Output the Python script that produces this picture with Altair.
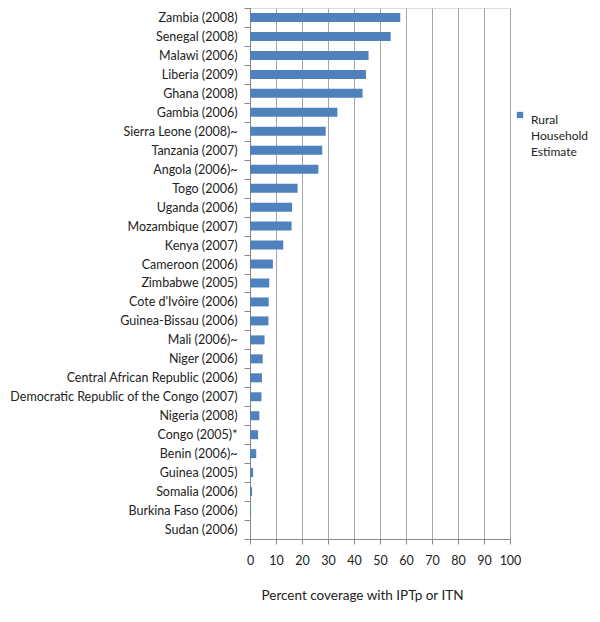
import altair as alt
import pandas as pd

countries = [
    "Zambia (2008)", "Senegal (2008)", "Malawi (2006)", "Liberia (2009)",
    "Ghana (2008)", "Gambia (2006)", "Sierra Leone (2008)~", "Tanzania (2007)",
    "Angola (2006)~", "Togo (2006)", "Uganda (2006)", "Mozambique (2007)",
    "Kenya (2007)", "Cameroon (2006)", "Zimbabwe (2005)", "Cote d'Ivôire (2006)",
    "Guinea-Bissau (2006)", "Mali (2006)~", "Niger (2006)",
    "Central African Republic (2006)", "Democratic Republic of the Congo (2007)",
    "Nigeria (2008)", "Congo (2005)*", "Benin (2006)~", "Guinea (2005)",
    "Somalia (2006)", "Burkina Faso (2006)", "Sudan (2006)",
]
values = [
    57.8, 54.1, 45.6, 44.6, 43.3, 33.6, 29.1, 27.8, 26.3, 18.3, 16.2, 16.0,
    12.8, 8.8, 7.4, 7.2, 7.1, 5.6, 4.9, 4.6, 4.4, 3.6, 3.1, 2.4, 1.2, 0.8, 0.4, 0.0,
]
series = ["Rural Household Estimate"] * len(countries)
x_ticks = list(range(0, 101, 10))

df = pd.DataFrame({"country": countries, "value": values, "series": series})

FONT = "Lato"

bars = alt.Chart(df).mark_bar(size=9).encode(
    y=alt.Y(
        "country:N",
        sort=countries,
        scale=alt.Scale(paddingInner=0, paddingOuter=0),
        axis=alt.Axis(
            title=None,
            tickBand="extent",
            tickSize=6,
            labelPadding=7,
            labelFontSize=12.5,
            labelFont=FONT,
            labelColor="#222222",
            domainColor="#888888",
            tickColor="#888888",
            labelLimit=400,
            grid=False,
        ),
    ),
    x=alt.X(
        "value:Q",
        scale=alt.Scale(domain=[0, 100], nice=False),
        axis=alt.Axis(
            values=x_ticks,
            labelOverlap=False,
            labelFlush=False,
            title="Percent coverage with IPTp or ITN",
            titleFont=FONT,
            titleFontSize=13.5,
            titleFontWeight="normal",
            titleColor="#222222",
            titlePadding=22,
            titleX=112,
            labelFont=FONT,
            labelFontSize=12.5,
            labelColor="#222222",
            labelPadding=10,
            tickSize=5,
            grid=True,
            gridColor="#a6a6a6",
            domainColor="#888888",
            tickColor="#888888",
        ),
    ),
    color=alt.Color(
        "series:N",
        scale=alt.Scale(range=["#4F81BD"]),
        legend=alt.Legend(
            title=None,
            orient="none",
            legendX=264,
            legendY=101,
            padding=0,
            symbolType="square",
            symbolSize=40,
            symbolStrokeWidth=0,
            labelFont=FONT,
            labelFontSize=12,
            labelColor="#222222",
            labelExpr="['Rural', 'Household', 'Estimate']",
            labelBaseline="top",
            labelOffset=5,
        ),
    ),
)

chart = bars.properties(
    width=260,
    height=531,
    autosize=alt.AutoSizeParams(type="none"),
    padding={"left": 242, "top": 0, "right": 82, "bottom": 69},
).configure_view(stroke=None).configure(
    background="white", style={"guide-label": {"lineHeight": 16}}
)

chart.save("out.html", embed_options={"renderer": "svg", "actions": False})
